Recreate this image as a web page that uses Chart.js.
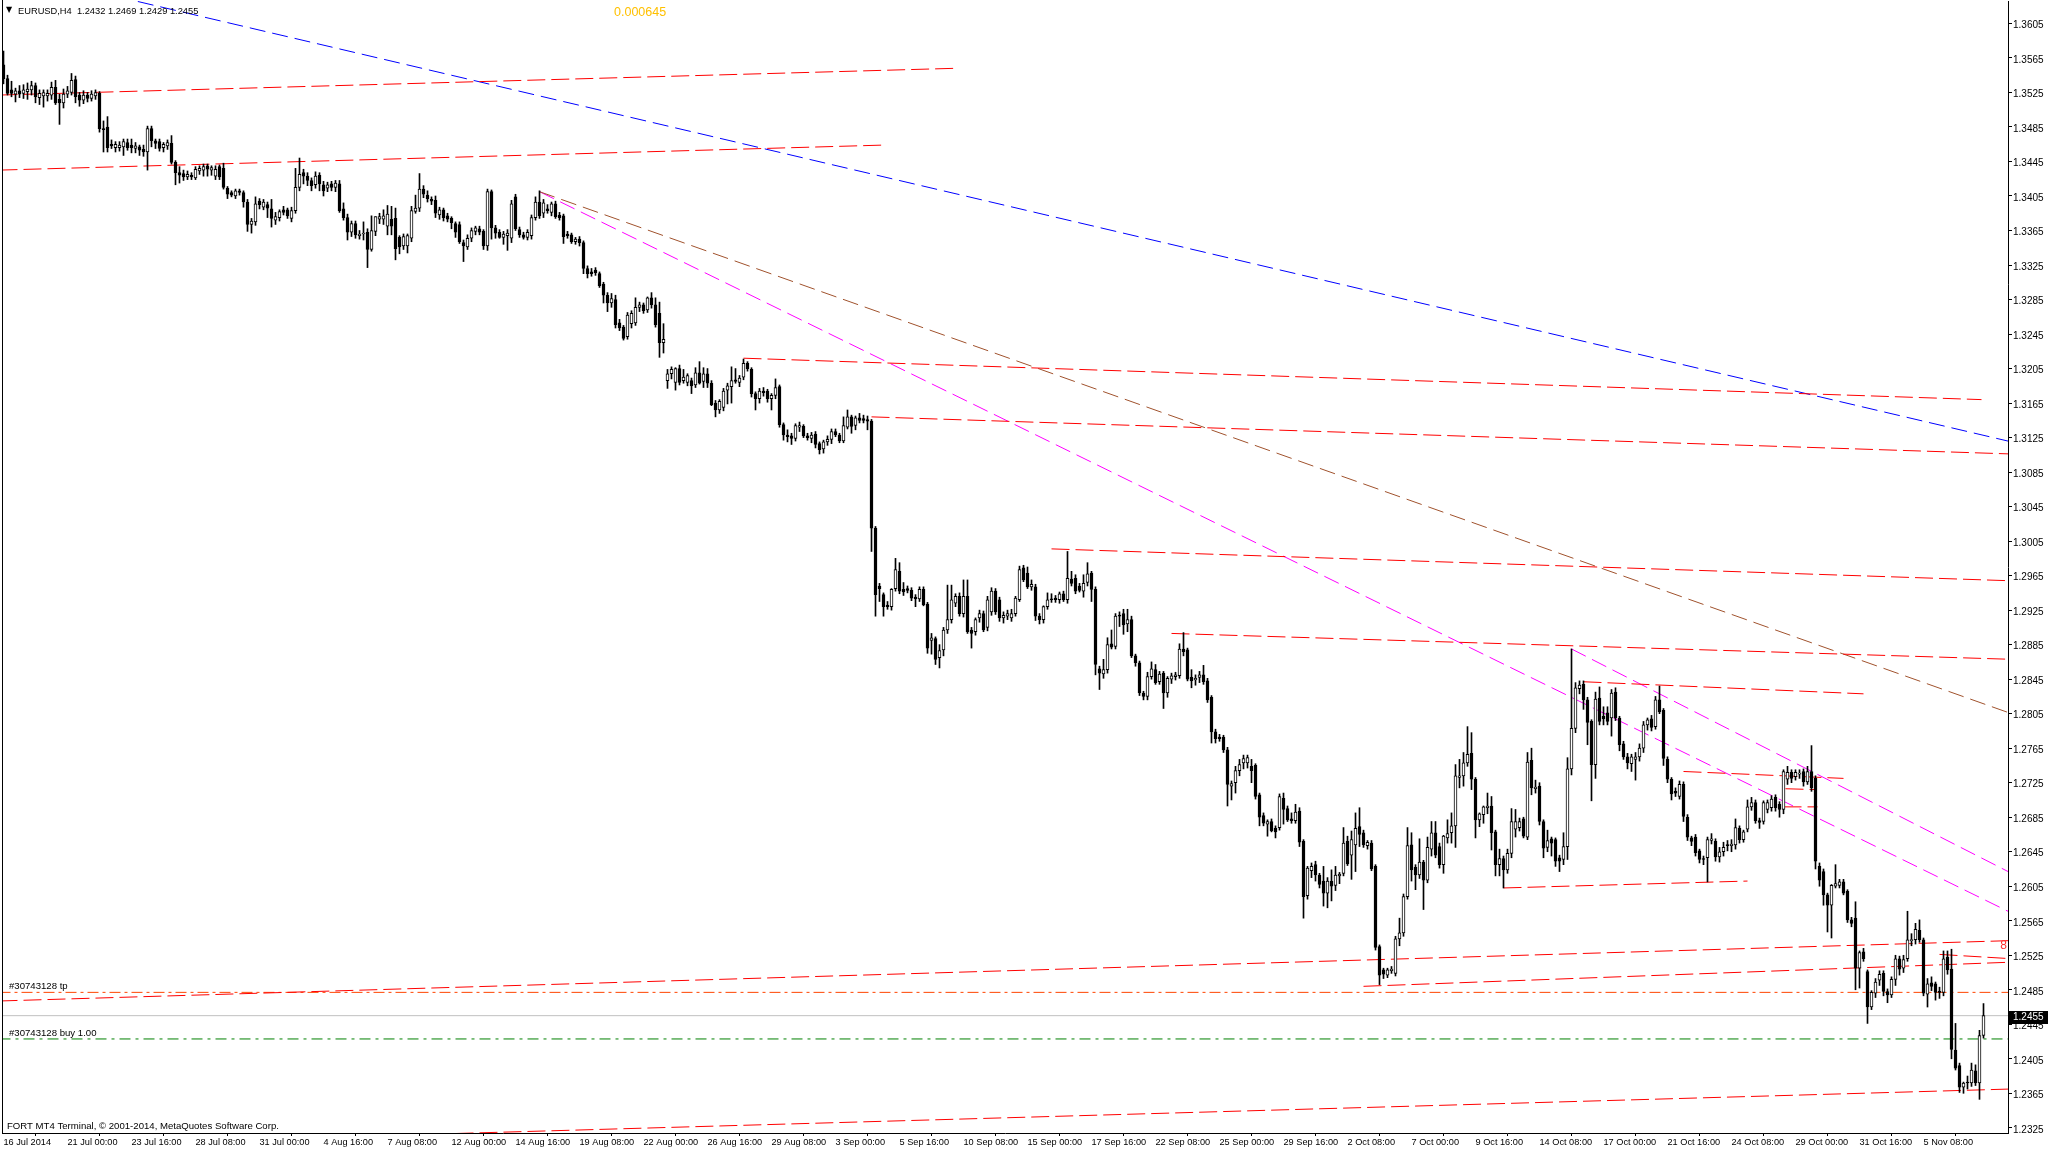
<!DOCTYPE html>
<html>
<head>
<meta charset="utf-8">
<title>EURUSD,H4</title>
<script src="https://cdn.jsdelivr.net/npm/chart.js@4.4.1/dist/chart.umd.min.js"></script>
<style>
  html, body { margin: 0; padding: 0; background: #fff; }
  #wrap { width: 2048px; height: 1152px; }
</style>
</head>
<body>
<div id="wrap"><canvas id="chart" width="2048" height="1152"></canvas></div>
<script>
// EURUSD H4 candles, 16 Jul 2014 08:00 .. 7 Nov 2014 20:00
// [open, high, low, close] in 1/10000 of a dollar
const candles = [
  [13557,13573,13535,13541],[13541,13545,13522,13524],[13528,13538,13520,13524],[13523,13530,13514,13527],
  [13527,13533,13519,13523],[13524,13534,13518,13528],[13526,13536,13517,13529],[13528,13538,13522,13533],
  [13533,13536,13513,13520],[13519,13528,13511,13524],[13521,13528,13508,13525],[13521,13528,13515,13524],
  [13522,13537,13517,13531],[13531,13539,13511,13513],[13517,13523,13488,13513],[13513,13529,13507,13523],
  [13523,13532,13519,13527],[13525,13547,13522,13539],[13540,13544,13513,13520],[13522,13525,13509,13516],
  [13516,13527,13512,13522],[13522,13525,13514,13518],[13518,13527,13515,13523],[13521,13528,13517,13525],
  [13524,13526,13479,13483],[13483,13492,13456,13482],[13485,13497,13456,13461],[13465,13470,13460,13463],
  [13461,13468,13456,13465],[13461,13468,13457,13464],[13462,13471,13452,13468],[13467,13471,13458,13461],
  [13464,13471,13455,13461],[13460,13467,13455,13463],[13462,13464,13452,13458],[13459,13464,13451,13456],
  [13456,13486,13435,13483],[13483,13486,13462,13469],[13469,13471,13460,13466],[13468,13471,13457,13460],
  [13461,13467,13456,13465],[13463,13470,13459,13467],[13466,13475,13442,13444],[13444,13446,13418,13432],
  [13432,13439,13420,13429],[13431,13435,13423,13427],[13427,13434,13424,13430],[13429,13432,13424,13427],
  [13426,13439,13424,13436],[13434,13440,13430,13437],[13435,13442,13428,13439],[13440,13442,13428,13436],
  [13435,13440,13429,13438],[13428,13440,13424,13436],[13439,13441,13424,13427],[13437,13443,13413,13415],
  [13414,13416,13402,13407],[13409,13411,13404,13406],[13405,13413,13402,13411],[13411,13413,13406,13409],
  [13409,13411,13392,13398],[13398,13401,13364,13372],[13372,13379,13362,13376],[13375,13404,13371,13396],
  [13399,13402,13390,13395],[13392,13401,13389,13398],[13395,13398,13380,13391],[13390,13401,13369,13379],
  [13377,13386,13372,13381],[13380,13389,13376,13387],[13389,13393,13383,13386],[13389,13391,13379,13382],
  [13379,13392,13375,13388],[13388,13437,13385,13415],[13415,13449,13411,13430],[13432,13436,13419,13428],
  [13428,13432,13417,13423],[13423,13426,13411,13417],[13418,13433,13414,13428],[13429,13432,13411,13419],
  [13418,13422,13405,13411],[13414,13421,13410,13418],[13419,13422,13411,13415],[13415,13423,13410,13420],
  [13419,13423,13386,13388],[13390,13397,13377,13380],[13380,13384,13354,13363],[13363,13376,13358,13373],
  [13373,13376,13356,13360],[13359,13365,13355,13361],[13361,13375,13354,13362],[13363,13367,13322,13343],
  [13343,13382,13341,13365],[13364,13381,13359,13381],[13378,13385,13373,13381],[13378,13389,13372,13382],
  [13370,13394,13360,13384],[13378,13393,13360,13370],[13379,13391,13331,13344],[13357,13359,13338,13346],
  [13347,13361,13343,13358],[13347,13361,13339,13359],[13356,13393,13352,13388],[13387,13406,13385,13391],
  [13391,13431,13387,13413],[13413,13417,13403,13407],[13406,13411,13398,13402],[13401,13404,13395,13399],
  [13400,13405,13380,13385],[13383,13392,13378,13389],[13389,13391,13376,13380],[13382,13385,13375,13378],
  [13379,13381,13367,13374],[13373,13375,13357,13363],[13372,13375,13350,13352],[13351,13354,13329,13347],
  [13346,13360,13343,13356],[13356,13368,13352,13365],[13364,13370,13360,13368],[13367,13370,13360,13363],
  [13364,13366,13343,13347],[13347,13413,13342,13410],[13410,13412,13355,13368],[13368,13371,13356,13362],
  [13363,13366,13356,13357],[13357,13364,13349,13361],[13359,13366,13342,13362],[13356,13400,13351,13396],
  [13404,13407,13365,13367],[13366,13369,13357,13360],[13360,13363,13355,13357],[13357,13366,13354,13363],
  [13359,13383,13355,13380],[13380,13404,13377,13398],[13398,13411,13379,13382],[13385,13401,13380,13397],
  [13390,13395,13385,13388],[13386,13398,13382,13396],[13396,13399,13379,13381],[13383,13386,13377,13380],
  [13382,13384,13350,13358],[13361,13364,13356,13359],[13360,13362,13350,13352],[13352,13357,13349,13355],
  [13355,13358,13347,13351],[13351,13353,13315,13321],[13321,13324,13310,13315],[13317,13321,13312,13315],
  [13319,13322,13313,13316],[13315,13317,13299,13301],[13303,13305,13281,13290],[13290,13293,13271,13281],
  [13281,13292,13276,13286],[13285,13290,13252,13256],[13258,13262,13249,13252],[13253,13255,13238,13240],
  [13242,13270,13239,13267],[13257,13272,13252,13269],[13258,13287,13255,13276],[13276,13282,13271,13279],
  [13279,13281,13269,13272],[13273,13288,13270,13287],[13287,13293,13275,13279],[13279,13287,13253,13256],
  [13269,13282,13218,13235],[13235,13257,13223,13239],[13191,13204,13182,13199],[13199,13207,13193,13204],
  [13189,13206,13180,13205],[13205,13209,13186,13189],[13191,13204,13188,13195],[13189,13199,13185,13197],
  [13191,13194,13176,13185],[13186,13206,13183,13200],[13200,13213,13187,13188],[13190,13206,13183,13199],
  [13199,13205,13183,13188],[13188,13191,13162,13163],[13165,13168,13149,13157],[13157,13169,13153,13167],
  [13160,13182,13156,13179],[13180,13188,13164,13185],[13184,13207,13165,13191],[13192,13205,13188,13190],
  [13189,13197,13184,13194],[13195,13216,13192,13211],[13211,13213,13202,13205],[13204,13206,13172,13176],
  [13176,13178,13157,13170],[13170,13182,13165,13179],[13179,13183,13173,13177],[13179,13181,13166,13170],
  [13170,13176,13157,13174],[13174,13193,13170,13183],[13184,13186,13137,13140],[13140,13142,13122,13128],
  [13128,13134,13120,13126],[13127,13130,13117,13124],[13124,13141,13121,13139],[13137,13143,13132,13139],
  [13138,13140,13125,13127],[13127,13130,13122,13125],[13124,13131,13119,13128],[13129,13132,13113,13117],
  [13118,13120,13106,13111],[13112,13122,13107,13120],[13120,13127,13116,13123],[13123,13135,13118,13132],
  [13132,13135,13126,13128],[13128,13130,13119,13121],[13121,13149,13119,13139],[13137,13157,13135,13149],
  [13149,13151,13130,13138],[13139,13150,13134,13148],[13148,13153,13142,13145],[13147,13151,13142,13145],
  [13146,13150,13134,13144],[13144,13146,12993,13020],[13020,13022,12918,12943],[12953,12956,12935,12950],
  [12943,12945,12918,12929],[12931,12935,12926,12929],[12929,12950,12925,12949],[12950,12985,12947,12972],
  [12970,12980,12944,12947],[12949,12957,12942,12946],[12950,12953,12945,12948],[12948,12951,12936,12939],
  [12940,12943,12929,12938],[12938,12952,12935,12949],[12949,12952,12930,12931],[12932,12934,12875,12881],
  [12890,12898,12874,12893],[12892,12894,12862,12868],[12870,12885,12858,12878],[12879,12905,12872,12902],
  [12902,12954,12898,12914],[12914,12954,12910,12937],[12933,12944,12929,12941],[12941,12945,12918,12921],
  [12921,12960,12917,12941],[12941,12960,12898,12900],[12902,12905,12881,12898],[12900,12916,12896,12914],
  [12916,12925,12911,12921],[12921,12924,12900,12902],[12905,12941,12901,12937],[12923,12951,12919,12947],
  [12947,12950,12920,12923],[12937,12940,12912,12916],[12916,12923,12910,12919],[12918,12925,12914,12921],
  [12916,12926,12912,12921],[12921,12941,12918,12939],[12937,12976,12935,12972],[12974,12977,12958,12960],
  [12968,12975,12950,12952],[12952,12960,12948,12955],[12952,12955,12913,12918],[12918,12921,12909,12914],
  [12914,12930,12910,12929],[12929,12945,12926,12937],[12938,12944,12934,12937],[12939,12942,12934,12937],
  [12937,12946,12933,12944],[12944,12947,12935,12937],[12937,12993,12933,12962],[12961,12970,12953,12956],
  [12962,12966,12944,12947],[12953,12956,12946,12948],[12947,12966,12940,12956],[12957,12980,12953,12967],
  [12968,12970,12935,12949],[12949,12952,12850,12862],[12857,12860,12833,12852],[12851,12868,12846,12856],
  [12856,12893,12852,12885],[12886,12902,12880,12882],[12883,12921,12880,12918],[12919,12923,12906,12918],
  [12921,12926,12897,12908],[12909,12926,12900,12914],[12914,12918,12870,12872],[12872,12874,12860,12864],
  [12864,12866,12826,12829],[12829,12831,12821,12825],[12825,12853,12821,12848],[12848,12865,12845,12857],
  [12856,12862,12839,12841],[12842,12854,12839,12851],[12852,12854,12811,12829],[12829,12848,12824,12846],
  [12845,12852,12840,12849],[12848,12853,12844,12850],[12849,12886,12846,12880],[12880,12899,12872,12877],
  [12879,12881,12843,12845],[12847,12856,12835,12843],[12844,12850,12838,12846],[12847,12854,12841,12850],
  [12850,12861,12839,12842],[12843,12846,12818,12821],[12824,12826,12771,12784],[12784,12787,12771,12776],
  [12778,12781,12773,12776],[12778,12780,12760,12763],[12763,12766,12698,12723],[12721,12727,12705,12724],
  [12725,12744,12713,12739],[12739,12752,12733,12746],[12748,12757,12741,12753],[12748,12757,12742,12754],
  [12744,12752,12725,12739],[12745,12747,12706,12709],[12711,12713,12675,12685],[12687,12690,12675,12678],
  [12677,12682,12663,12680],[12680,12683,12668,12669],[12672,12675,12661,12668],[12673,12712,12670,12709],
  [12707,12713,12677,12694],[12695,12698,12680,12682],[12683,12690,12678,12681],[12681,12700,12678,12691],
  [12692,12696,12651,12656],[12657,12659,12568,12593],[12594,12628,12590,12626],[12623,12632,12615,12628],
  [12630,12634,12611,12618],[12618,12620,12603,12607],[12611,12628,12582,12597],[12597,12615,12580,12611],
  [12611,12624,12588,12605],[12606,12628,12600,12618],[12617,12621,12608,12619],[12620,12673,12617,12655],
  [12657,12663,12629,12631],[12641,12669,12613,12659],[12653,12690,12622,12672],[12674,12696,12651,12665],
  [12667,12670,12650,12653],[12652,12658,12648,12656],[12655,12658,12623,12625],[12628,12630,12531,12534],
  [12535,12537,12491,12502],[12508,12510,12498,12503],[12502,12510,12499,12508],[12507,12512,12504,12509],
  [12504,12547,12501,12544],[12544,12568,12536,12551],[12551,12596,12547,12593],[12593,12673,12590,12652],
  [12653,12667,12611,12624],[12627,12630,12601,12618],[12618,12660,12614,12633],[12633,12635,12578,12612],
  [12612,12662,12609,12650],[12648,12680,12640,12667],[12667,12680,12638,12641],[12651,12655,12626,12630],
  [12630,12664,12620,12663],[12661,12682,12655,12666],[12667,12690,12655,12675],[12675,12746,12650,12733],
  [12731,12752,12719,12733],[12733,12760,12721,12748],[12748,12790,12744,12758],[12759,12783,12717,12729],
  [12729,12731,12661,12682],[12682,12690,12674,12689],[12688,12698,12678,12697],[12696,12713,12689,12698],
  [12698,12709,12647,12667],[12668,12670,12617,12630],[12630,12648,12617,12637],[12637,12640,12603,12624],
  [12624,12648,12620,12643],[12643,12695,12638,12680],[12671,12694,12662,12680],[12673,12684,12669,12680],
  [12683,12685,12661,12663],[12662,12760,12659,12749],[12751,12765,12711,12719],[12718,12728,12713,12720],
  [12721,12725,12676,12680],[12680,12682,12638,12649],[12650,12670,12645,12658],[12660,12662,12640,12655],
  [12659,12661,12628,12634],[12638,12641,12622,12634],[12636,12667,12630,12651],[12651,12754,12636,12741],
  [12741,12880,12734,12788],[12788,12841,12783,12835],[12834,12843,12828,12838],[12839,12843,12810,12821],
  [12821,12824,12769,12795],[12796,12798,12704,12746],[12746,12830,12730,12822],[12823,12836,12792,12796],
  [12802,12813,12792,12799],[12806,12813,12792,12796],[12800,12833,12779,12829],[12830,12835,12797,12800],
  [12800,12802,12762,12769],[12770,12773,12752,12755],[12755,12759,12741,12748],[12747,12758,12738,12755],
  [12752,12760,12728,12755],[12755,12770,12750,12765],[12765,12796,12760,12792],[12792,12800,12786,12798],
  [12799,12803,12785,12789],[12790,12825,12787,12821],[12821,12837,12805,12807],[12809,12811,12745,12753],
  [12752,12755,12725,12729],[12729,12731,12705,12712],[12715,12719,12709,12713],[12709,12727,12706,12723],
  [12723,12726,12680,12686],[12685,12688,12658,12662],[12661,12663,12652,12657],[12662,12665,12640,12644],
  [12646,12648,12632,12636],[12637,12640,12630,12636],[12638,12662,12610,12659],[12658,12666,12654,12660],
  [12657,12660,12634,12639],[12639,12650,12633,12645],[12645,12656,12640,12650],[12653,12658,12646,12652],
  [12652,12659,12645,12654],[12653,12683,12648,12673],[12672,12675,12655,12659],[12659,12670,12656,12668],
  [12671,12705,12668,12697],[12697,12708,12693,12702],[12702,12705,12678,12681],[12681,12684,12672,12679],
  [12680,12704,12677,12702],[12694,12705,12690,12702],[12696,12710,12692,12706],[12708,12711,12692,12696],
  [12700,12703,12685,12694],[12694,12740,12689,12738],[12729,12744,12723,12737],[12737,12740,12725,12730],
  [12732,12740,12728,12737],[12735,12740,12730,12736],[12738,12741,12721,12726],[12726,12744,12723,12738],
  [12738,12768,12715,12719],[12730,12733,12625,12634],[12628,12632,12605,12612],[12622,12625,12583,12595],
  [12595,12597,12552,12583],[12583,12607,12545,12606],[12605,12630,12603,12608],[12606,12613,12603,12610],
  [12610,12613,12595,12597],[12599,12601,12563,12566],[12566,12569,12558,12562],[12568,12587,12485,12510],
  [12510,12530,12487,12528],[12529,12533,12518,12521],[12506,12508,12446,12465],[12465,12484,12462,12482],
  [12481,12498,12476,12494],[12496,12507,12490,12503],[12504,12507,12478,12483],[12483,12486,12470,12479],
  [12479,12500,12476,12497],[12497,12525,12490,12521],[12521,12524,12502,12509],[12510,12525,12505,12520],
  [12521,12576,12518,12543],[12542,12550,12536,12543],[12543,12562,12538,12555],[12554,12566,12540,12543],
  [12543,12545,12478,12481],[12480,12498,12465,12492],[12493,12500,12484,12489],[12492,12494,12473,12482],
  [12483,12488,12475,12482],[12482,12530,12478,12521],[12523,12530,12503,12508],[12509,12532,12405,12416],
  [12415,12446,12392,12394],[12397,12400,12366,12372],[12372,12378,12365,12377],[12378,12385,12370,12377],
  [12377,12400,12373,12392],[12391,12398,12374,12377],[12377,12438,12358,12432],[12432,12469,12429,12455]
];

// time axis labels, one every 16 bars
const timeLabels = [
  '16 Jul 2014', '21 Jul 00:00', '23 Jul 16:00', '28 Jul 08:00', '31 Jul 00:00', '4 Aug 16:00',
  '7 Aug 08:00', '12 Aug 00:00', '14 Aug 16:00', '19 Aug 08:00', '22 Aug 00:00', '26 Aug 16:00',
  '29 Aug 08:00', '3 Sep 00:00', '5 Sep 16:00', '10 Sep 08:00', '15 Sep 00:00', '17 Sep 16:00',
  '22 Sep 08:00', '25 Sep 00:00', '29 Sep 16:00', '2 Oct 08:00', '7 Oct 00:00', '9 Oct 16:00',
  '14 Oct 08:00', '17 Oct 00:00', '21 Oct 16:00', '24 Oct 08:00', '29 Oct 00:00', '31 Oct 16:00',
  '5 Nov 08:00'
];

// price scale labels
const priceTicks = [
  1.2325, 1.2365, 1.2405, 1.2445, 1.2485, 1.2525, 1.2565, 1.2605, 1.2645, 1.2685, 1.2725,
  1.2765, 1.2805, 1.2845, 1.2885, 1.2925, 1.2965, 1.3005, 1.3045, 1.3085, 1.3125, 1.3165,
  1.3205, 1.3245, 1.3285, 1.3325, 1.3365, 1.3405, 1.3445, 1.3485, 1.3525, 1.3565, 1.3605
];

// trend lines: [bar1, price1, bar2, price2]
const redLines = [
  [-1, 1.3522, 238, 1.3553], [-1, 1.3435, 220, 1.3464],
  [185, 1.3217, 494.5, 1.3169], [217, 1.3149, 502, 1.3106],
  [262, 1.2996, 502, 1.2959], [292, 1.2898, 502, 1.2868],
  [395, 1.2842, 465, 1.2828], [420, 1.2738, 460, 1.2730],
  [375, 1.2603, 436, 1.2611], [445.5, 1.2718, 453, 1.2717],
  [445, 1.2697, 453.5, 1.2697], [-1, 1.2472, 502, 1.2542],
  [340, 1.2489, 502, 1.2517], [484, 1.2526, 502, 1.2521],
  [95, 1.2316, 502, 1.2370]
];
const blueLines = [[0, 1.3667, 502, 1.3120]];
const brownLines = [[134, 1.3410, 502, 1.2805]];
const pinkLines = [[134, 1.3410, 502, 1.2574], [392, 1.2880, 502, 1.2620]];

const bidPrice = 1.2455;
const tpPrice = 1.2482;
const buyPrice = 1.2428;
const lastBar = [1.2432, 1.2469, 1.2429, 1.2455];
const spreadText = '0.000645';

const P = v => v / 10000;
const FONT = "'Liberation Sans', Arial, sans-serif";
Chart.defaults.font.family = FONT;
Chart.defaults.font.size = 10;
Chart.defaults.color = '#000';

const bodies = candles.map((c, i) => ({ x: i, y: [P(c[0]), P(c[3])] }));
const wicks = candles.map((c, i) => ({ x: i, y: [P(c[2]), P(c[1])] }));

function seg(l, color, dash) {
  return {
    type: 'line',
    data: [{ x: l[0], y: l[1] }, { x: l[2], y: l[3] }],
    borderColor: color,
    borderWidth: 1,
    borderDash: dash,
    pointRadius: 0,
    fill: false,
    tension: 0,
    order: 10
  };
}

const lineSets = [];
redLines.forEach(l => lineSets.push(seg(l, '#FF0000', [18, 6])));
blueLines.forEach(l => lineSets.push(seg(l, '#0000FF', [16, 7])));
brownLines.forEach(l => lineSets.push(seg(l, '#A0522D', [16, 7])));
pinkLines.forEach(l => lineSets.push(seg(l, '#FF00FF', [16, 7])));
lineSets.push(seg([-1, tpPrice, 502, tpPrice], '#FF4500', [11, 4, 3, 4]));
lineSets.push(seg([-1, buyPrice, 502, buyPrice], '#008000', [11, 5, 3, 5]));
lineSets.push(seg([-1, bidPrice, 502, bidPrice], '#C0C0C0', []));

const overlay = {
  id: 'overlay',
  afterDraw(chart) {
    const { ctx, chartArea: a, scales: { y } } = chart;
    ctx.save();
    ctx.fillStyle = '#000';
    ctx.fillRect(a.left, 0, 1, a.bottom);

    ctx.textBaseline = 'middle';
    ctx.textAlign = 'left';
    ctx.font = '8px "DejaVu Sans"';
    ctx.fillText('\u25BC', 6, 10);
    ctx.font = '9.3px ' + FONT;
    ctx.fillText('EURUSD,H4  ' + lastBar.map(v => v.toFixed(4)).join(' '), 18, 11);
    ctx.font = '9.6px ' + FONT;
    ctx.fillText('#30743128 tp', 9, y.getPixelForValue(tpPrice) - 6);
    ctx.fillText('#30743128 buy 1.00', 9, y.getPixelForValue(buyPrice) - 6);
    ctx.fillText('FORT MT4 Terminal, \u00A9 2001-2014, MetaQuotes Software Corp.', 7, 1126);

    ctx.fillStyle = '#FFC000';
    ctx.font = '12.5px ' + FONT;
    ctx.fillText(spreadText, 614, 13);

    ctx.fillStyle = '#FF3030';
    ctx.font = '12px ' + FONT;
    ctx.textAlign = 'right';
    ctx.fillText('8', 2007, 946);

    const yb = Math.round(y.getPixelForValue(bidPrice)) + 1;
    ctx.fillStyle = '#000';
    ctx.fillRect(a.right + 1, yb - 6, 2048 - a.right - 1, 13);
    ctx.fillStyle = '#fff';
    ctx.textAlign = 'left';
    ctx.font = '10px ' + FONT;
    ctx.fillText(bidPrice.toFixed(4), 2013, yb + 0.5);
    ctx.restore();
  }
};

new Chart(document.getElementById('chart'), {
  type: 'bar',
  data: {
    datasets: [
      {
        data: wicks,
        backgroundColor: '#000',
        barThickness: 1,
        grouped: false,
        minBarLength: 1,
        order: 2
      },
      {
        data: bodies,
        backgroundColor: c => {
          const k = candles[c.dataIndex];
          return k && k[3] >= k[0] ? '#FFFFFF' : '#000000';
        },
        borderColor: '#000',
        borderWidth: 1,
        borderSkipped: false,
        barThickness: 3,
        grouped: false,
        minBarLength: 1,
        order: 1
      },
      ...lineSets
    ]
  },
  options: {
    responsive: false,
    animation: false,
    devicePixelRatio: 1,
    layout: { padding: { left: 2, top: 1, right: 0, bottom: 0 } },
    plugins: { legend: { display: false }, tooltip: { enabled: false } },
    scales: {
      x: {
        type: 'linear',
        min: -0.375,
        max: 501.125,
        offset: false,
        grid: { drawOnChartArea: false, drawTicks: true, tickLength: 3, color: '#000' },
        border: { display: true, color: '#000' },
        ticks: {
          align: 'start',
          maxRotation: 0,
          autoSkip: false,
          padding: 1,
          font: { size: 9.2 },
          callback: v => timeLabels[v / 16]
        },
        afterBuildTicks: s => { s.ticks = timeLabels.map((t, k) => ({ value: k * 16 })); },
        afterFit: s => { s.height = 19; s.paddingLeft = 0; s.paddingRight = 0; }
      },
      y: {
        position: 'right',
        min: 1.2319,
        max: 1.3631,
        grid: { drawOnChartArea: false, drawTicks: true, tickLength: 4, color: '#000' },
        border: { display: true, color: '#000' },
        ticks: {
          padding: 1,
          labelOffset: 2,
          font: { size: 10 },
          callback: v => v.toFixed(4)
        },
        afterBuildTicks: s => { s.ticks = priceTicks.map(v => ({ value: v })); },
        afterFit: s => { s.width = 40; s.paddingTop = 0; s.paddingBottom = 0; }
      }
    }
  },
  plugins: [overlay]
});
</script>
</body>
</html>
